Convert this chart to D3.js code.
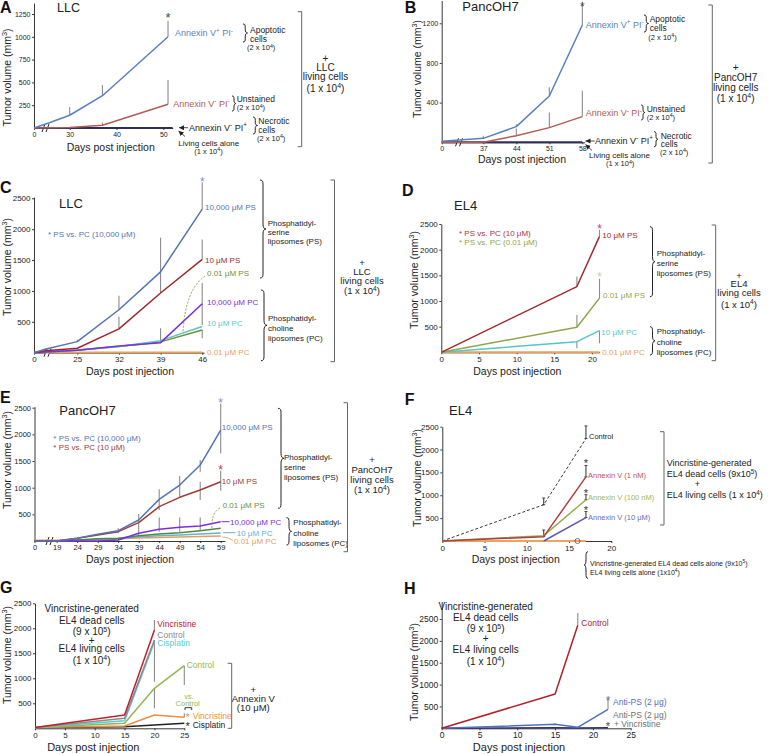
<!DOCTYPE html>
<html><head><meta charset="utf-8">
<script src="https://cdn.jsdelivr.net/npm/d3@7"></script>
<style>body{margin:0;background:#fff}svg{display:block}</style>
</head><body><svg id="c" width="768" height="754"></svg>
<script>
// ================= DATA =================
// Panel A (LLC, annexin V sorted dead cells)
const A_xTicks = [0, 30, 40, 50];
const A_yTicks = [250, 500, 750, 1000, 1250];
const A_days_apoptotic = [0, 26, 30, 37, 51];
const A_apoptotic = [0, 60, 140, 354, 1000];
const A_days_unstained = [0, 30, 37, 51];
const A_unstained = [0, 5, 30, 260];
const A_days_necrotic = [0, 52];
const A_necrotic = [0, 0];
const A_err_apoptotic = [[30, 140, 230], [37, 354, 471], [51, 1000, 1176]];
const A_err_unstained = [[37, 30, 60], [51, 260, 526]];

// Panel B (PancOH7)
const B_xTicks = [0, 37, 44, 51, 58];
const B_yTicks = [400, 800, 1200];
const B_days = [0, 37, 44, 51, 58];
const B_apoptotic = [10, 40, 158, 467, 1183];
const B_unstained = [0, 0, 67, 148, 259];
const B_days_necrotic = [0, 58];
const B_necrotic = [0, 0];
const B_err_apoptotic = [[37, 40, 67], [44, 158, 181], [51, 467, 555], [58, 1183, 1418]];
const B_err_unstained = [[44, 67, 138], [51, 148, 300], [58, 259, 521]];

// Panel C (LLC, liposomes)
const C_xTicks = [0, 25, 32, 39, 46];
const C_yTicks = [500, 1000, 1500, 2000, 2500];
const C_days = [0, 20, 25, 32, 39, 46];
const C_ps10000 = [0, 55, 179, 695, 1309, 2324];
const C_ps10 = [0, 30, 72, 386, 967, 1510];
const C_ps001 = [0, 10, 40, 100, 175, 367];
const C_pc10000 = [0, 10, 40, 109, 163, 793];
const C_pc10 = [0, 10, 45, 100, 195, 423];
const C_pc001 = [0, 5, 5, 5, 5, 5];
const C_err_ps10000 = [[25, 179, 215], [32, 695, 922], [39, 1309, 1863], [46, 2324, 2759]];
const C_err_ps10 = [[32, 386, 586], [39, 967, 1309], [46, 1510, 1832]];
const C_err_pc10000 = [[39, 163, 397], [46, 450, 1130]];
const C_err_ps001 = [[46, 234, 367]];

// Panel D (EL4, liposomes)
const D_xTicks = [0, 5, 10, 15, 20];
const D_yTicks = [500, 1000, 1500, 2000, 2500];
const D_days = [0, 18, 21];
const D_ps10 = [0, 1281, 2258];
const D_ps001 = [0, 488, 1055];
const D_pc10 = [0, 207, 422];
const D_pc001 = [0, 0, 0];
const D_err_ps10 = [[18, 1281, 1477], [21, 2258, 2389]];
const D_err_ps001 = [[18, 500, 729], [21, 1055, 1432]];
const D_err_pc10 = [[18, 78, 207], [21, 176, 422]];

// Panel E (PancOH7, liposomes)
const E_xTicks = [0, 19, 24, 29, 34, 39, 44, 49, 54, 59];
const E_yTicks = [500, 1000, 1500, 2000, 2500];
const E_days = [0, 19, 24, 29, 34, 39, 44, 49, 54, 59];
const E_ps10000 = [0, 0, 50, 125, 194, 394, 781, 1050, 1425, 2081];
const E_ps10 = [0, 0, 50, 112, 175, 344, 644, 819, 956, 1112];
const E_pc10000 = [0, 0, 0, 0, 20, 144, 219, 256, 281, 363];
const E_ps001 = [0, 0, 20, 40, 50, 100, 131, 156, 194, 238];
const E_pc10 = [0, 0, 15, 30, 38, 81, 100, 112, 131, 150];
const E_pc001 = [15, 15, 20, 30, 40, 55, 65, 75, 85, 94];
const E_err_ps10000 = [[34, 144, 238], [39, 281, 506], [44, 581, 969], [49, 831, 1219], [54, 1300, 1519], [59, 1644, 2581]];
const E_err_ps10 = [[54, 769, 1112], [59, 944, 1319]];
const E_err_pc10000 = [[39, 90, 280], [44, 175, 440], [49, 175, 440], [54, 206, 440]];

// Panel F (EL4, annexin V)
const F_xTicks = [0, 5, 10, 15, 20];
const F_yTicks = [500, 1000, 1500, 2000, 2500];
const F_days = [0, 12, 17];
const F_control = [0, 793, 2240];
const F_anx1nM = [0, 95, 1403];
const F_anx100nM = [0, 117, 903];
const F_days_10uM = [12, 17];
const F_anx10uM = [0, 513];
const F_days_alone = [0, 17];
const F_alone = [0, 0];
const F_aloneMarkDay = [16];
const F_err_control = [[12, 793, 940], [17, 2240, 2517]];
const F_err_1nM = [[12, 95, 240], [17, 1403, 1652]];
const F_err_100nM = [[17, 903, 1013]];
const F_err_10uM = [[17, 513, 645]];

// Panel G (chemotherapy + annexin V)
const G_xTicks = [0, 5, 10, 15, 20, 25];
const G_yTicks = [500, 1000, 1500, 2000, 2500];
const G_days3 = [0, 15, 20];
const G_days4 = [0, 15, 20, 25];
const G_vincristine = [15, 265, 1967];
const G_control = [15, 200, 1767];
const G_cisplatin = [15, 152, 1733];
const G_controlAnx = [15, 100, 800, 1253];
const G_vincristineAnx = [15, 45, 267, 220];
const G_cisplatinAnx = [15, 33, 67, 100];
const G_err_vincristine = [[20, 1967, 2167]];
const G_err_control = [[20, 933, 1767]];
const G_err_controlAnx = [[20, 400, 800], [25, 867, 1253]];
const G_err_vincristineAnx = [[25, 220, 300]];

// Panel H (anti-PS)
const H_xTicks = [0, 5, 10, 15, 20, 25];
const H_yTicks = [500, 1000, 1500, 2000, 2500];
const H_days_control = [0, 15, 18];
const H_control = [0, 784, 2359];
const H_days_antiPS = [0, 15, 18, 22];
const H_antiPS = [0, 90, 22, 434];
const H_antiPSVinc = [0, 10, 5, 10];
const H_err_control = [[18, 2359, 2640]];
const H_err_antiPS = [[15, 90, 122], [22, 434, 646]];

// ================= DRAWING =================
const FONT = '"Liberation Sans", Arial, Helvetica, sans-serif';
const svg = d3.select('#c').attr('font-family', FONT);
svg.append('rect').attr('width', 768).attr('height', 754).attr('fill', '#fff');
const defs = svg.append('defs');
defs.append('marker').attr('id', 'arr').attr('markerWidth', 6).attr('markerHeight', 6)
  .attr('refX', 5).attr('refY', 3).attr('orient', 'auto').attr('markerUnits', 'userSpaceOnUse')
  .append('path').attr('d', 'M0,0.5 L5,3 L0,5.5 Z').attr('fill', '#222');

function rich(g, x, cy, str, o = {}) {
  const size = o.size || 8;
  const t = g.append('text').attr('x', x).attr('y', cy + size * 0.35)
    .attr('font-size', size).attr('fill', o.color || '#222')
    .attr('text-anchor', o.anchor || 'start');
  if (o.weight) t.attr('font-weight', o.weight);
  if (o.rotate) t.attr('transform', `rotate(${o.rotate},${x},${cy})`);
  const parts = str.split(/(\^\{[^}]*\}|\^.)/);
  let shifted = false;
  parts.forEach(p => {
    if (!p) return;
    if (p[0] === '^') {
      const s = p[1] === '{' ? p.slice(2, -1) : p.slice(1);
      t.append('tspan').attr('dy', -size * 0.38).attr('font-size', size * 0.7).text(s);
      shifted = true;
    } else {
      const ts = t.append('tspan').text(p);
      if (shifted) { ts.attr('dy', size * 0.38); shifted = false; }
    }
  });
  return t;
}
function lines(g, x, cys, strs, o) { strs.forEach((s, i) => rich(g, x, cys[i], s, o)); }
function letter(g, x, base, s) {
  g.append('text').attr('x', x).attr('y', base).attr('font-size', 16).attr('font-weight', 'bold').attr('fill', '#111').text(s);
}
function star(g, x, cy, color, size = 13) {
  g.append('text').attr('x', x).attr('y', cy + size * 0.55).attr('text-anchor', 'middle')
    .attr('font-size', size).attr('fill', color).text('*');
}
function brace(g, x, y1, y2, w, color = '#222') {
  const m = (y1 + y2) / 2, r = Math.min(5, (y2 - y1) / 5), h = x + w * 0.5;
  const p = `M${x},${y1} C${x + w * 0.45},${y1} ${h},${y1 + r * 0.3} ${h},${y1 + r} L${h},${m - r} C${h},${m - r * 0.3} ${x + w * 0.7},${m} ${x + w},${m} C${x + w * 0.7},${m} ${h},${m + r * 0.3} ${h},${m + r} L${h},${y2 - r} C${h},${y2 - r * 0.3} ${x + w * 0.45},${y2} ${x},${y2}`;
  g.append('path').attr('d', p).attr('fill', 'none').attr('stroke', color).attr('stroke-width', 1);
}
function bracket(g, x, y1, y2, w = 4, color = '#666') {
  g.append('path').attr('d', `M${x - w},${y1} L${x},${y1} L${x},${y2} L${x - w},${y2}`)
    .attr('fill', 'none').attr('stroke', color).attr('stroke-width', 1);
}
function arrow(g, x1, y1, x2, y2) {
  g.append('line').attr('x1', x1).attr('y1', y1).attr('x2', x2).attr('y2', y2)
    .attr('stroke', '#222').attr('stroke-width', 0.8).attr('marker-end', 'url(#arr)');
}
function seg(g, x1, y1, x2, y2, color, dash) {
  g.append('line').attr('x1', x1).attr('y1', y1).attr('x2', x2).attr('y2', y2)
    .attr('stroke', color).attr('stroke-width', 1).attr('stroke-dasharray', dash || null);
}

function makePanel(o) {
  const g = svg.append('g');
  const x = d3.scaleLinear().domain(o.xd).range(o.xr);
  const k = (o.y0 - o.yRefPix) / o.yRef;
  const y = d3.scaleLinear().domain([0, o.yTop]).range([o.y0, o.y0 - k * o.yTop]);
  const fmt = d3.format('d');
  const ax = g.append('g').attr('transform', `translate(0,${o.y0})`)
    .call(d3.axisBottom(x).tickValues(o.xTicks).tickSize(2).tickPadding(2).tickSizeOuter(0).tickFormat(fmt));
  const ay = g.append('g').attr('transform', `translate(${o.xr[0]},0)`)
    .call(d3.axisLeft(y).tickValues(o.yTicks).tickSize(2).tickPadding(1.5).tickSizeOuter(0).tickFormat(fmt));
  [ax, ay].forEach(a => {
    a.attr('font-size', o.tick).attr('font-family', FONT);
    a.selectAll('text').attr('fill', '#222');
    a.selectAll('path,line').attr('stroke', '#222').attr('stroke-width', 0.9);
  });
  if (o.brk) {
    const [bx, by] = o.brk;
    g.append('rect').attr('x', bx - 2).attr('y', by - 1.5).attr('width', 4).attr('height', 3).attr('fill', '#fff');
    seg(g, bx - 3.5, by + 4, bx - 0.5, by - 4, '#222');
    seg(g, bx + 0.5, by + 4, bx + 3.5, by - 4, '#222');
  }
  o.series.forEach(s => {
    (s.err || []).forEach(([d, lo, hi]) => {
      g.append('line').attr('x1', x(d)).attr('x2', x(d)).attr('y1', y(lo)).attr('y2', y(hi))
        .attr('stroke', s.errColor || '#8c8c8c').attr('stroke-width', 1.1);
      if (o.cap) [lo, hi].forEach(v => g.append('line').attr('x1', x(d) - o.cap).attr('x2', x(d) + o.cap)
        .attr('y1', y(v)).attr('y2', y(v)).attr('stroke', s.errColor || '#8c8c8c').attr('stroke-width', 1));
    });
  });
  const line = d3.line().x(d => x(d[0])).y(d => y(d[1]));
  o.series.forEach(s => {
    g.append('path').attr('d', line(s.days.map((d, i) => [d, s.vals[i]])))
      .attr('fill', 'none').attr('stroke', s.color).attr('stroke-width', s.w || 1.5)
      .attr('stroke-dasharray', s.dash || null).attr('stroke-linejoin', 'round');
  });
  rich(g, o.xlab[0], o.xlab[1], 'Days post injection', { size: o.xlab[2], anchor: 'middle' });
  rich(g, o.ylab[0], o.ylab[1], 'Tumor volume (mm^3)', { size: o.ylab[2], anchor: 'middle', rotate: -90 });
  return { g, x, y };
}

// ---------- Panel A ----------
{
  const blue = '#5a7fc0', red = '#b55a55', navy = '#2e2e5e';
  const P = makePanel({
    xd: [0, 26, 30, 52], xr: [34, 50, 69.7, 172.7], xTicks: A_xTicks,
    y0: 128, yRef: 1250, yRefPix: 14, yTop: 1370, yTicks: A_yTicks, tick: 7, brk: [45.5, 128],
    series: [
      { days: A_days_necrotic, vals: A_necrotic, color: navy, w: 2 },
      { days: A_days_unstained, vals: A_unstained, color: red, err: A_err_unstained },
      { days: A_days_apoptotic, vals: A_apoptotic, color: blue, err: A_err_apoptotic }
    ],
    xlab: [110.7, 147.7, 10.5], ylab: [7, 77.5, 10.5]
  });
  const g = P.g;
  letter(g, 0, 12.5, 'A');
  rich(g, 57, 7.5, 'LLC', { size: 12.5 });
  star(g, P.x(51), 15, '#444');
  rich(g, 175, 33, 'Annexin V^+ PI^-', { size: 9, color: blue });
  brace(g, 243, 24, 42, 4.5);
  lines(g, 250, [30, 39.5], ['Apoptotic', 'cells'], { size: 8.5 });
  rich(g, 247, 47.8, '(2 x 10^4)', { size: 7.5 });
  rich(g, 173.3, 103.7, 'Annexin V^- PI^-', { size: 9, color: red });
  brace(g, 232, 96, 111, 4);
  rich(g, 236.7, 99.3, 'Unstained', { size: 8.5 });
  rich(g, 236.7, 107.8, '(2 x 10^4)', { size: 7.5 });
  arrow(g, 188, 127.7, 179, 127.7);
  rich(g, 189, 127.5, 'Annexin V^- PI^+', { size: 9 });
  brace(g, 253, 117, 134, 4.5);
  lines(g, 258.3, [121.5, 130], ['Necrotic', 'cells'], { size: 8.5 });
  rich(g, 257, 138, '(2 x 10^4)', { size: 7.5 });
  arrow(g, 185, 136.5, 178.5, 131);
  rich(g, 178.3, 143, 'Living cells alone', { size: 8 });
  rich(g, 194.3, 151.3, '(1 x 10^4)', { size: 7.5 });
  bracket(g, 301.7, 11.7, 146.7);
  lines(g, 325.5, [58.5, 67.5, 76.5], ['+', 'LLC', 'living cells'], { size: 10, anchor: 'middle' });
  rich(g, 325.5, 88, '(1 x 10^4)', { size: 10, anchor: 'middle' });
}

// ---------- Panel B ----------
{
  const blue = '#5a7fc0', red = '#b55a55', navy = '#2e2e5e';
  const P = makePanel({
    xd: [0, 37, 58.5], xr: [441.7, 483.3, 584.7], xTicks: B_xTicks,
    y0: 142.3, yRef: 1200, yRefPix: 23.3, yTop: 1430, yTicks: B_yTicks, tick: 7, brk: [459, 142.3],
    series: [
      { days: B_days_necrotic, vals: B_necrotic, color: navy, w: 2 },
      { days: B_days, vals: B_unstained, color: red, err: B_err_unstained },
      { days: B_days, vals: B_apoptotic, color: blue, err: B_err_apoptotic }
    ],
    xlab: [522, 159, 10.5], ylab: [417, 69, 10.5]
  });
  const g = P.g;
  letter(g, 404.7, 12.7, 'B');
  rich(g, 462.3, 6.7, 'PancOH7', { size: 13 });
  star(g, P.x(58), 4.5, '#444', 12);
  rich(g, 585.7, 24.7, 'Annexin V^+ PI^-', { size: 9, color: blue });
  brace(g, 644, 15, 32, 4.5);
  lines(g, 649.7, [19, 28.3], ['Apoptotic', 'cells'], { size: 8.5 });
  rich(g, 648.3, 37.6, '(2 x 10^4)', { size: 7.5 });
  rich(g, 585.7, 113.3, 'Annexin V^- PI^-', { size: 9, color: red });
  brace(g, 641, 105, 120, 4);
  rich(g, 646.7, 109, 'Unstained', { size: 8.5 });
  rich(g, 646.7, 117.6, '(2 x 10^4)', { size: 7.5 });
  arrow(g, 594.7, 141, 585.5, 141);
  rich(g, 595, 140.7, 'Annexin V^- PI^+', { size: 9 });
  brace(g, 654, 131.7, 146.7, 4);
  lines(g, 660.7, [136, 144], ['Necrotic', 'cells'], { size: 8.5 });
  rich(g, 660, 152, '(2 x 10^4)', { size: 7.5 });
  arrow(g, 592, 150.5, 585.5, 144.5);
  rich(g, 589, 155.5, 'Living cells alone', { size: 8 });
  rich(g, 606, 163.8, '(1 x 10^4)', { size: 7.5 });
  bracket(g, 712.3, 5, 163);
  lines(g, 735.7, [67.5, 77.3, 87.3], ['+', 'PancOH7', 'living cells'], { size: 10, anchor: 'middle' });
  rich(g, 735.7, 98, '(1 x 10^4)', { size: 10, anchor: 'middle' });
}

// ---------- Panel C ----------
{
  const blue = '#5474b4', red = '#a0282c', green = '#6f8f35', purple = '#7b2ee0', cyan = '#5cc7c7', orange = '#e4a060';
  const P = makePanel({
    xd: [0, 20, 25, 46.3], xr: [34, 45, 77.3, 204], xTicks: C_xTicks,
    y0: 352.7, yRef: 2500, yRefPix: 198.3, yTop: 2520, yTicks: C_yTicks, tick: 8, brk: [47.5, 352.7],
    series: [
      { days: C_days, vals: C_pc001, color: orange, w: 2 },
      { days: C_days, vals: C_ps001, color: green, err: C_err_ps001 },
      { days: C_days, vals: C_pc10, color: cyan },
      { days: C_days, vals: C_pc10000, color: purple, err: C_err_pc10000 },
      { days: C_days, vals: C_ps10, color: red, err: C_err_ps10 },
      { days: C_days, vals: C_ps10000, color: blue, err: C_err_ps10000 }
    ],
    xlab: [130, 371.7, 10.5], ylab: [7, 267, 10.5]
  });
  const g = P.g;
  letter(g, 0, 193, 'C');
  rich(g, 59, 203, 'LLC', { size: 13 });
  rich(g, 48, 234.3, '* PS vs. PC (10,000 \u03bcM)', { size: 8, color: blue });
  star(g, P.x(46), 179, '#7890d0', 12);
  rich(g, 205, 206.7, '10,000 \u03bcM PS', { size: 8, color: blue });
  rich(g, 205, 260, '10 \u03bcM PS', { size: 8, color: red });
  rich(g, 207, 273.3, '0.01 \u03bcM PS', { size: 8, color: green });
  g.append('path').attr('d', 'M205,276 Q185,290 183,333').attr('fill', 'none')
    .attr('stroke', green).attr('stroke-width', 0.8).attr('stroke-dasharray', '2,1.5');
  rich(g, 207, 302.3, '10,000 \u03bcM PC', { size: 8, color: purple });
  rich(g, 207, 323.3, '10 \u03bcM PC', { size: 8, color: cyan });
  rich(g, 207, 352.3, '0.01 \u03bcM PC', { size: 8, color: orange });
  brace(g, 260, 180, 278, 6);
  lines(g, 267.7, [223.3, 231.7, 241], ['Phosphatidyl-', 'serine', 'liposomes (PS)'], { size: 8 });
  brace(g, 261, 290, 360.7, 6);
  lines(g, 268, [318.3, 328.3, 338.3], ['Phosphatidyl-', 'choline', 'liposomes (PC)'], { size: 8 });
  bracket(g, 334.5, 180, 361.7);
  lines(g, 362, [262.5, 271.5, 280.5], ['+', 'LLC', 'living cells'], { size: 9.5, anchor: 'middle' });
  rich(g, 362, 291, '(1 x 10^4)', { size: 9.5, anchor: 'middle' });
}

// ---------- Panel D ----------
{
  const red = '#a4282c', green = '#8fa64a', cyan = '#56c5c8', orange = '#e8a060';
  const P = makePanel({
    xd: [0, 21], xr: [441.3, 599.5], xTicks: D_xTicks,
    y0: 352.3, yRef: 2500, yRefPix: 224, yTop: 2500, yTicks: D_yTicks, tick: 8,
    series: [
      { days: D_days, vals: D_pc001, color: orange, w: 2 },
      { days: D_days, vals: D_pc10, color: cyan, err: D_err_pc10 },
      { days: D_days, vals: D_ps001, color: green, err: D_err_ps001 },
      { days: D_days, vals: D_ps10, color: red, err: D_err_ps10 }
    ],
    xlab: [517.3, 371.7, 10.5], ylab: [414, 280, 10.5]
  });
  const g = P.g;
  letter(g, 402, 195.7, 'D');
  rich(g, 454, 205, 'EL4', { size: 13 });
  rich(g, 459, 233.3, '* PS vs. PC (10 \u03bcM)', { size: 8, color: '#b03040' });
  rich(g, 459, 242.3, '* PS vs. PC (0.01 \u03bcM)', { size: 8, color: green });
  star(g, P.x(21), 226, '#c84060', 12);
  star(g, P.x(21), 274, '#c8d0a0', 12);
  rich(g, 602.3, 235, '10 \u03bcM PS', { size: 8, color: red });
  rich(g, 603, 295, '0.01 \u03bcM PS', { size: 8, color: green });
  rich(g, 601.3, 331.7, '10 \u03bcM PC', { size: 8, color: cyan });
  rich(g, 602.3, 352.3, '0.01 \u03bcM PC', { size: 8, color: orange });
  brace(g, 650, 226.7, 296.7, 5);
  lines(g, 656.7, [253.3, 263.3, 273.3], ['Phosphatidyl-', 'serine', 'liposomes (PS)'], { size: 8 });
  brace(g, 650, 326.7, 355, 5);
  lines(g, 656.7, [331, 341.7, 351.7], ['Phosphatidyl-', 'choline', 'liposomes (PC)'], { size: 8 });
  bracket(g, 715.7, 225, 360.7);
  lines(g, 739, [275.5, 283.8, 292.3], ['+', 'EL4', 'living cells'], { size: 9.5, anchor: 'middle' });
  rich(g, 739, 304.5, '(1 x 10^4)', { size: 9.5, anchor: 'middle' });
}

// ---------- Panel E ----------
{
  const blue = '#5474b4', red = '#a03c38', green = '#4f8a3a', purple = '#7b2ee0', lblue = '#6aaed0', orange = '#e0a060';
  const P = makePanel({
    xd: [0, 19, 60], xr: [34.5, 56.7, 224.8], xTicks: E_xTicks,
    y0: 541, yRef: 2500, yRefPix: 407.7, yTop: 2520, yTicks: E_yTicks, tick: 7.5, brk: [49.5, 541],
    series: [
      { days: E_days, vals: E_pc001, color: orange, w: 1.5 },
      { days: E_days, vals: E_pc10, color: lblue },
      { days: E_days, vals: E_ps001, color: green },
      { days: E_days, vals: E_pc10000, color: purple, err: E_err_pc10000 },
      { days: E_days, vals: E_ps10, color: red, err: E_err_ps10 },
      { days: E_days, vals: E_ps10000, color: blue, err: E_err_ps10000 }
    ],
    xlab: [130, 559.3, 10.5], ylab: [7, 460, 10.5]
  });
  const g = P.g;
  letter(g, 0, 403, 'E');
  rich(g, 59.3, 410, 'PancOH7', { size: 13 });
  rich(g, 53.3, 437.7, '* PS vs. PC (10,000 \u03bcM)', { size: 8, color: blue });
  rich(g, 53.3, 447.3, '* PS vs. PC (10 \u03bcM)', { size: 8, color: red });
  star(g, P.x(59), 400, '#7890d0', 12);
  star(g, P.x(59), 467, '#b04050', 12);
  rich(g, 221.7, 427.3, '10,000 \u03bcM PS', { size: 8, color: blue });
  rich(g, 221.7, 480.7, '10 \u03bcM PS', { size: 8, color: red });
  rich(g, 222.7, 505, '0.01 \u03bcM PS', { size: 8, color: '#6f8f35' });
  g.append('path').attr('d', 'M220,508 Q211,513 212,528').attr('fill', 'none')
    .attr('stroke', '#6f8f35').attr('stroke-width', 0.8).attr('stroke-dasharray', '2,1.5');
  seg(g, 221.5, 521.7, 229.5, 521.7, purple);
  rich(g, 230, 521.7, '10,000 \u03bcM PC', { size: 8, color: purple });
  seg(g, 223, 532.7, 235.5, 532.7, lblue);
  rich(g, 236.7, 532.7, '10 \u03bcM PC', { size: 8, color: lblue });
  g.append('path').attr('d', 'M222.5,537 Q228,537 233,540.5').attr('fill', 'none').attr('stroke', orange).attr('stroke-width', 0.8);
  rich(g, 234, 540.7, '0.01 \u03bcM PC', { size: 8, color: orange });
  brace(g, 278, 408.3, 508.3, 6);
  lines(g, 284, [456.7, 467.3, 477.3], ['Phosphatidyl-', 'serine', 'liposomes (PS)'], { size: 8 });
  brace(g, 286.5, 517.7, 545, 5);
  lines(g, 293.3, [522.3, 533.3, 543.3], ['Phosphatidyl-', 'choline', 'liposomes (PC)'], { size: 8 });
  bracket(g, 347.5, 402.7, 551.7);
  lines(g, 372, [460, 470, 480], ['+', 'PancOH7', 'living cells'], { size: 9.5, anchor: 'middle' });
  rich(g, 372, 490, '(1 x 10^4)', { size: 9.5, anchor: 'middle' });
}

// ---------- Panel F ----------
{
  const red = '#b04040', green = '#95b050', purple = '#5a5ab0', orange = '#f0a060';
  const P = makePanel({
    xd: [0, 20], xr: [442.3, 611.3], xTicks: F_xTicks,
    y0: 541, yRef: 2500, yRefPix: 426.7, yTop: 2500, yTicks: F_yTicks, tick: 8, cap: 1.5,
    series: [
      { days: F_days_alone, vals: F_alone, color: orange, w: 2 },
      { days: F_days, vals: F_control, color: '#222', w: 0.9, dash: '3,2', err: F_err_control, errColor: '#444' },
      { days: F_days, vals: F_anx100nM, color: green, err: F_err_100nM, errColor: '#444' },
      { days: F_days, vals: F_anx1nM, color: red, err: F_err_1nM, errColor: '#444' },
      { days: F_days_10uM, vals: F_anx10uM, color: purple, err: F_err_10uM, errColor: '#444' }
    ],
    xlab: [515.7, 559.3, 10.5], ylab: [417, 478, 10.5]
  });
  const g = P.g;
  F_aloneMarkDay.forEach(d => g.append('circle').attr('cx', P.x(d)).attr('cy', P.y(0)).attr('r', 2.5)
    .attr('fill', 'none').attr('stroke', '#555').attr('stroke-width', 0.8));
  letter(g, 404.7, 405, 'F');
  rich(g, 449, 410.7, 'EL4', { size: 13 });
  rich(g, 589, 436.7, 'Control', { size: 7.5 });
  rich(g, 588, 475.7, 'Annexin V (1 nM)', { size: 7.5, color: '#c05050' });
  rich(g, 588, 497.7, 'Annexin V (100 nM)', { size: 7.5, color: '#a0b850' });
  rich(g, 588, 517.7, 'Annexin V (10 \u03bcM)', { size: 7.5, color: '#6a6ab8' });
  [460.5, 490.5, 507.8].forEach(cy => star(g, P.x(17), cy, '#333', 11));
  bracket(g, 664, 431.7, 525);
  rich(g, 666.7, 462.7, 'Vincristine-generated', { size: 9 });
  rich(g, 666.7, 474.3, 'EL4 dead cells (9x10^5)', { size: 9 });
  rich(g, 697.3, 484, '+', { size: 9, anchor: 'middle' });
  rich(g, 666.7, 495.3, 'EL4 living cells (1 x 10^4)', { size: 9 });
  brace(g, 588, 551.7, 578.3, -4);
  rich(g, 590, 563.3, 'Vincristine-generated EL4 dead cells alone (9x10^5)', { size: 7 });
  rich(g, 590, 572.7, 'EL4 living cells alone (1x10^4)', { size: 7 });
}

// ---------- Panel G ----------
{
  const red = '#c0202c', gray = '#8a8a8a', cyan = '#5ec8d4', green = '#95b550', orange = '#e89048', black = '#222';
  const P = makePanel({
    xd: [0, 25], xr: [35, 184.3], xTicks: G_xTicks,
    y0: 728.3, yRef: 2500, yRefPix: 603.3, yTop: 2500, yTicks: G_yTicks, tick: 8,
    series: [
      { days: G_days4, vals: G_cisplatinAnx, color: black },
      { days: G_days4, vals: G_vincristineAnx, color: orange, err: G_err_vincristineAnx },
      { days: G_days4, vals: G_controlAnx, color: green, err: G_err_controlAnx },
      { days: G_days3, vals: G_cisplatin, color: cyan },
      { days: G_days3, vals: G_control, color: gray, err: G_err_control },
      { days: G_days3, vals: G_vincristine, color: red, err: G_err_vincristine }
    ],
    xlab: [93.3, 746.7, 11], ylab: [7, 655, 10.5]
  });
  const g = P.g;
  letter(g, 0, 593.3, 'G');
  lines(g, 91.7, [608.3, 620, 640, 648.5], ['Vincristine-generated', 'EL4 dead cells', '+', 'EL4 living cells'], { size: 10, anchor: 'middle' });
  rich(g, 91.7, 631.8, '(9 x 10^5)', { size: 10, anchor: 'middle' });
  rich(g, 91.7, 660.7, '(1 x 10^4)', { size: 10, anchor: 'middle' });
  rich(g, 157.3, 624, 'Vincristine', { size: 8.5, color: red });
  rich(g, 157.3, 635.5, 'Control', { size: 8.5, color: gray });
  rich(g, 157.3, 643.5, 'Cisplatin', { size: 8.5, color: cyan });
  rich(g, 186.7, 665, 'Control', { size: 8.5, color: green });
  rich(g, 189, 696.5, 'vs.', { size: 7, color: green, anchor: 'middle' });
  rich(g, 187.7, 703, 'Control', { size: 7.5, color: green, anchor: 'middle' });
  g.append('path').attr('d', 'M185,710 L185,707.7 L191.7,707.7 L191.7,710').attr('fill', 'none').attr('stroke', '#222').attr('stroke-width', 0.9);
  star(g, 187.7, 715, orange, 11);
  rich(g, 192.7, 716, 'Vincristine', { size: 8.5, color: orange });
  star(g, 187.7, 724, black, 11);
  rich(g, 192.7, 725, 'Cisplatin', { size: 8.5, color: black });
  bracket(g, 231.7, 663.3, 728.3);
  lines(g, 253.3, [690, 698.7], ['+', 'Annexin V'], { size: 9.5, anchor: 'middle' });
  rich(g, 253.3, 707.7, '(10 \u03bcM)', { size: 9.5, anchor: 'middle' });
}

// ---------- Panel H ----------
{
  const red = '#b0202a', blue = '#5070c0', navy = '#30306a';
  const P = makePanel({
    xd: [0, 25], xr: [441.7, 630.7], xTicks: H_xTicks,
    y0: 728.3, yRef: 2500, yRefPix: 619, yTop: 2900, yTicks: H_yTicks, tick: 8.5,
    series: [
      { days: H_days_antiPS, vals: H_antiPSVinc, color: navy },
      { days: H_days_antiPS, vals: H_antiPS, color: blue, err: H_err_antiPS },
      { days: H_days_control, vals: H_control, color: red, err: H_err_control }
    ],
    xlab: [519, 746.7, 11], ylab: [414, 672, 10.5]
  });
  const g = P.g;
  letter(g, 404, 594, 'H');
  lines(g, 485.7, [606.7, 617.7, 638, 649.2], ['Vincristine-generated', 'EL4 dead cells', '+', 'EL4 living cells'], { size: 10, anchor: 'middle' });
  rich(g, 485.7, 628.8, '(9 x 10^5)', { size: 10, anchor: 'middle' });
  rich(g, 485.7, 661.7, '(1 x 10^4)', { size: 10, anchor: 'middle' });
  rich(g, 581.3, 623.3, 'Control', { size: 8.5, color: red });
  star(g, P.x(22), 698, '#666', 12);
  rich(g, 613, 701.7, 'Anti-PS (2 \u03bcg)', { size: 8.5, color: blue });
  rich(g, 613, 715, 'Anti-PS (2 \u03bcg)', { size: 8.5, color: '#707070' });
  star(g, 608, 723.5, '#444', 11);
  rich(g, 614, 724, '+ Vincristine', { size: 8.5, color: '#707070' });
}
</script></body></html>
